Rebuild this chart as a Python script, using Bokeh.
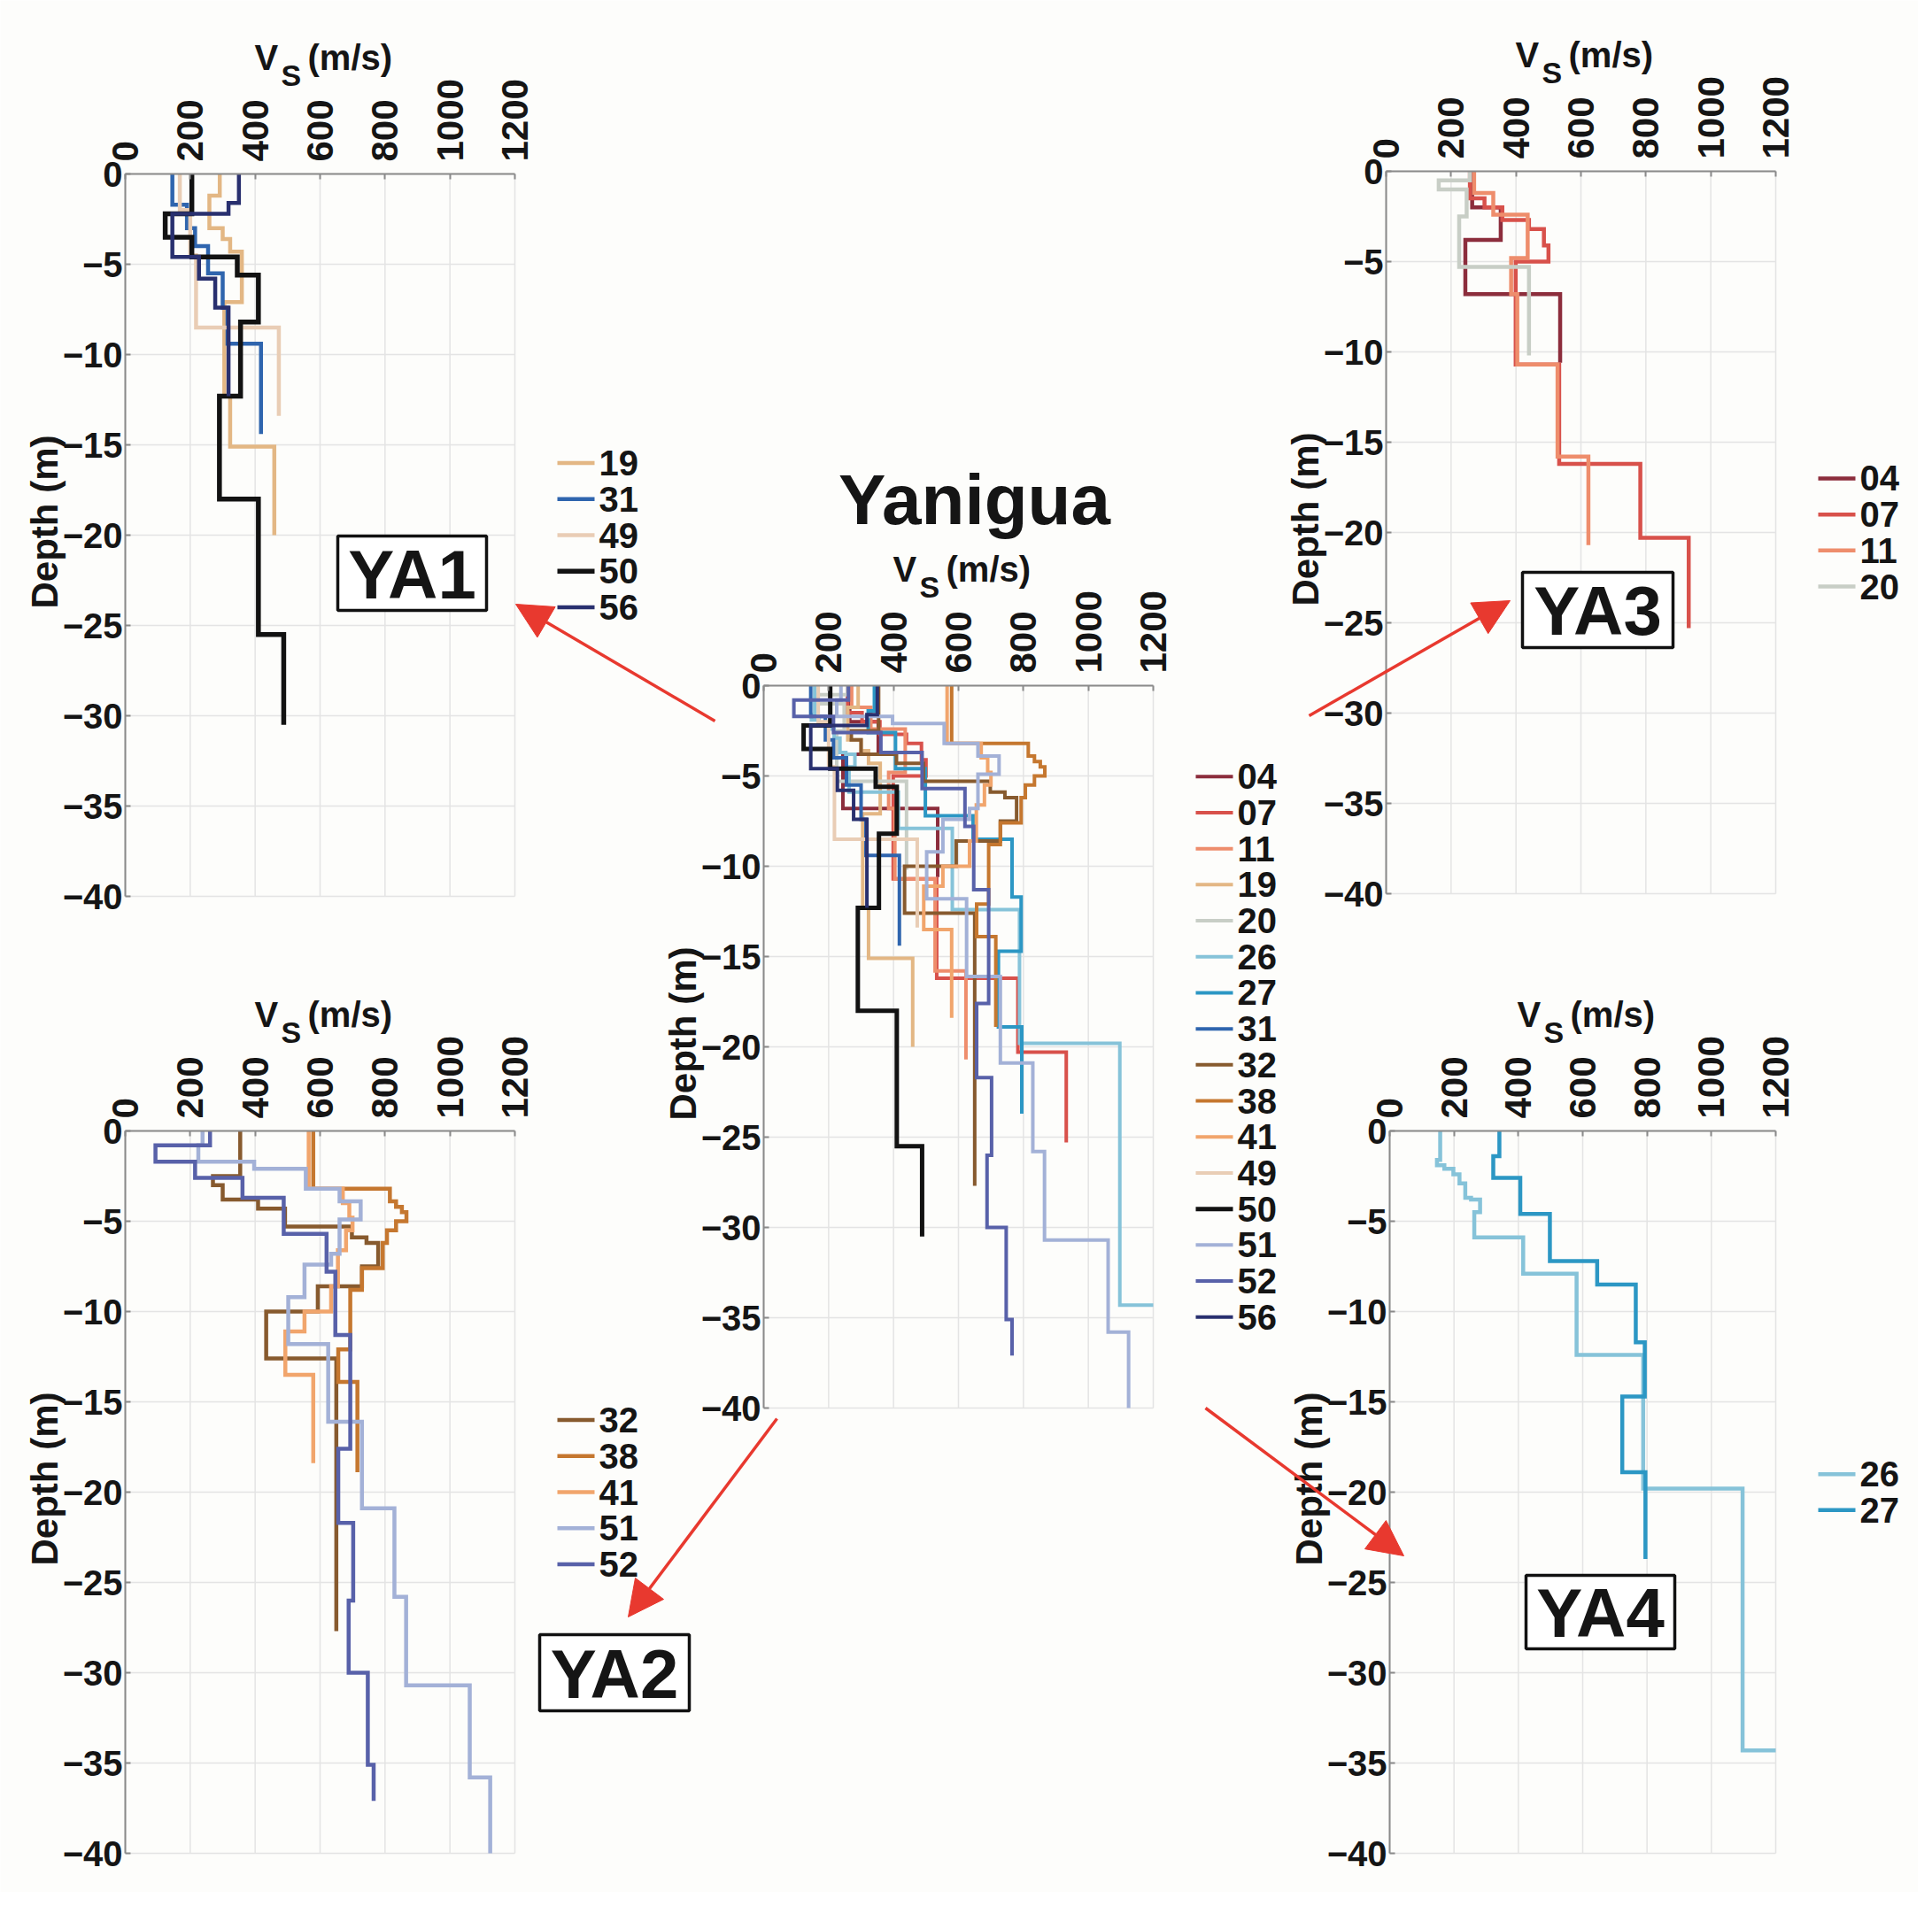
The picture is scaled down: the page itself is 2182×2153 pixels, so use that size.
import math
from bokeh.plotting import figure
from bokeh.models import Range1d, LinearAxis, FixedTicker, Label, Arrow, NormalHead
from bokeh.embed import file_html
from bokeh.resources import INLINE

# ---------------- data ----------------
depth_ticks = [0, -5, -10, -15, -20, -25, -30, -35, -40]
vs_ticks = [0, 200, 400, 600, 800, 1000, 1200]
site_ids = ["04", "07", "11", "19", "20", "26", "27", "31", "32", "38", "41", "49", "50", "51", "52", "56"]

# layer shear-wave velocity (m/s) and layer bottom depth (m)
vs_04 = [265, 353, 244, 536]
z_04 = [2.0, 3.8, 6.8, 10.6]
vs_07 = [258, 303, 358, 440, 486, 500, 399, 533, 783, 932]
z_07 = [1.5, 2.0, 2.7, 3.2, 4.1, 5.0, 10.7, 16.2, 20.3, 25.3]
vs_11 = [271, 330, 436, 385, 404, 528, 623]
z_11 = [1.2, 2.4, 4.8, 6.8, 10.7, 15.8, 20.7]
vs_19 = [291, 259, 300, 323, 359, 305, 323, 459]
z_19 = [1.2, 3.0, 3.6, 4.3, 7.1, 12.3, 15.1, 20.0]
vs_20 = [258, 162, 248, 225, 440]
z_20 = [0.5, 1.0, 2.5, 5.3, 10.2]
vs_26 = [157, 147, 170, 198, 217, 235, 253, 281, 263, 415, 581, 788, 1097, 1250]
z_26 = [1.6, 1.9, 2.1, 2.4, 2.9, 3.7, 3.8, 4.5, 5.9, 7.9, 12.4, 19.8, 34.3, 40.0]
vs_27 = [341, 322, 406, 498, 645, 765, 793, 723, 795]
z_27 = [1.4, 2.6, 4.6, 7.2, 8.5, 11.7, 14.7, 18.9, 23.7]
vs_31 = [145, 190, 215, 255, 300, 315, 418]
z_31 = [1.7, 3.0, 4.0, 5.5, 7.4, 9.4, 14.4]
vs_32 = [354, 270, 300, 409, 492, 698, 743, 779, 729, 593, 434, 650]
z_32 = [2.5, 3.0, 3.8, 4.3, 5.3, 5.9, 6.2, 7.5, 8.6, 10.0, 12.6, 27.7]
vs_38 = [579, 815, 834, 852, 866, 834, 806, 793, 729, 693, 656, 715]
z_38 = [3.2, 3.9, 4.2, 4.5, 5.0, 5.5, 6.2, 7.6, 8.8, 12.1, 13.9, 18.9]
vs_41 = [565, 670, 690, 700, 680, 655, 634, 552, 493, 579]
z_41 = [3.2, 4.0, 4.8, 5.5, 6.6, 8.6, 10.0, 11.1, 13.5, 18.4]
vs_49 = [168, 200, 218, 473]
z_49 = [2.0, 4.5, 8.5, 13.4]
vs_50 = [205, 123, 205, 345, 410, 355, 290, 410, 488]
z_50 = [2.2, 3.5, 4.6, 5.6, 8.2, 12.3, 18.0, 25.5, 30.5]
vs_51 = [238, 225, 397, 556, 660, 725, 660, 634, 552, 502, 625, 729, 829, 865, 1061, 1124]
z_51 = [0.8, 1.7, 2.1, 3.2, 3.9, 4.9, 6.8, 7.4, 9.2, 11.8, 16.1, 20.9, 25.8, 30.7, 35.8, 40.0]
vs_52 = [261, 93, 215, 361, 488, 620, 647, 693, 656, 702, 688, 747, 765]
z_52 = [0.8, 1.7, 2.6, 3.7, 5.7, 7.8, 11.3, 17.6, 21.7, 26.0, 30.0, 35.1, 37.1]
vs_56 = [350, 318, 145, 227, 277, 318]
z_56 = [1.6, 2.2, 4.6, 5.8, 7.4, 12.3]

ya1_sites = ["19", "31", "49", "50", "56"]
ya2_sites = ["32", "38", "41", "51", "52"]
ya3_sites = ["04", "07", "11", "20"]
ya4_sites = ["26", "27"]

profiles = {
    "04": (vs_04, z_04), "07": (vs_07, z_07), "11": (vs_11, z_11), "19": (vs_19, z_19),
    "20": (vs_20, z_20), "26": (vs_26, z_26), "27": (vs_27, z_27), "31": (vs_31, z_31),
    "32": (vs_32, z_32), "38": (vs_38, z_38), "41": (vs_41, z_41), "49": (vs_49, z_49),
    "50": (vs_50, z_50), "51": (vs_51, z_51), "52": (vs_52, z_52), "56": (vs_56, z_56),
}

colors = {
    "04": "#8c2d3c", "07": "#d8514b", "11": "#ee8d6c", "19": "#e3b784",
    "20": "#c8cec6", "26": "#86c3d9", "27": "#2c97c4", "31": "#2f65ae",
    "32": "#875a2e", "38": "#c5772f", "41": "#f1a56c", "49": "#e9cdb5",
    "50": "#121212", "51": "#a3b1d7", "52": "#5861a9", "56": "#29306f",
}

# ---------------- layout (screenshot pixels) ----------------
W, H = 2166, 2137
PX0, PX1 = 0, W
PY0, PY1 = 0, H
FONT = "Liberation Sans"
TXT = "#151515"
BG = "#fdfdfb"
GRID = "#e4e4e4"
AXC = "#8a8a8a"
RED = "#e8392f"

panels = [
    ("YA1", (141, 581, 196, 1012), ya1_sites, 4.5),
    ("YA2", (141, 581, 1277, 2093), ya2_sites, 4.5),
    ("C", (862, 1302, 774, 1590), site_ids, 4.0),
    ("YA3", (1565, 2005, 193, 1009), ya3_sites, 4.5),
    ("YA4", (1569, 2005, 1277, 2093), ya4_sites, 4.5),
]

p = figure(width=W, height=H,
           x_range=Range1d(PX0, PX1), y_range=Range1d(PY1, PY0),
           x_axis_location=None, y_axis_location=None,
           output_backend="svg", toolbar_location=None, min_border=0)
p.outline_line_color = None
p.background_fill_color = BG
p.border_fill_color = BG
p.grid.visible = False


def step_path(vs, z, vmax):
    xs, ys = [], []
    top = 0.0
    for v, bot in zip(vs, z):
        if v > vmax:
            xs.append(vmax)
            ys.append(-top)
            break
        xs.extend([v, v])
        ys.extend([-top, -bot])
        top = bot
    return xs, ys


def label(x, y, text, size, align="left", angle=0.0):
    p.add_layout(Label(x=x, y=y, text=text, text_font=FONT, text_font_style="bold",
                       text_font_size=size, text_color=TXT, text_align=align,
                       text_baseline="middle", angle=angle))


vmin, vmax = vs_ticks[0], vs_ticks[-1]
dtop, dbot = depth_ticks[0], depth_ticks[-1]

for name, (L, R, T, B), sites, lw in panels:
    kx = (vmax - vmin) / (R - L)
    ky = (dtop - dbot) / (B - T)
    p.extra_x_ranges[name + "_x"] = Range1d(vmin - (L - PX0) * kx, vmax + (PX1 - R) * kx)
    p.extra_y_ranges[name + "_y"] = Range1d(dbot - (PY1 - B) * ky, dtop + (T - PY0) * ky)
    rn = dict(x_range_name=name + "_x", y_range_name=name + "_y")

    # grid
    p.segment(x0=vs_ticks, y0=[dtop] * len(vs_ticks), x1=vs_ticks, y1=[dbot] * len(vs_ticks),
              line_color=GRID, line_width=1.5, **rn)
    p.segment(x0=[vmin] * len(depth_ticks), y0=depth_ticks, x1=[vmax] * len(depth_ticks),
              y1=depth_ticks, line_color=GRID, line_width=1.5, **rn)

    # profiles
    for s in sites:
        xs, ys = step_path(profiles[s][0], profiles[s][1], vmax)
        w = lw + 1.0 if s == "50" else lw
        p.line(xs, ys, line_color=colors[s], line_width=w, line_join="miter", **rn)

    # axes
    xa = LinearAxis(fixed_location=dtop, bounds=(vmin, vmax), ticker=FixedTicker(ticks=vs_ticks), **rn)
    ya = LinearAxis(fixed_location=vmin, bounds=(dbot, dtop), ticker=FixedTicker(ticks=depth_ticks), **rn)
    for ax in (xa, ya):
        ax.axis_line_color = AXC
        ax.axis_line_width = 2
        ax.major_tick_line_color = AXC
        ax.major_tick_line_width = 2
        ax.major_tick_in = 6
        ax.major_tick_out = 0
        ax.minor_tick_line_color = None
        ax.major_label_text_font = FONT
        ax.major_label_text_font_style = "bold"
        ax.major_label_text_color = TXT
    xa.major_label_text_font_size = "42px"
    ya.major_label_text_font_size = "40px"
    xa.major_label_orientation = "vertical"
    xa.major_label_standoff = 14
    ya.major_label_standoff = 3
    p.add_layout(xa, "above")
    p.add_layout(ya, "left")

    # axis titles
    cx = (L + R) / 2
    label(cx - 74, T - 132, "V", "40px")
    label(cx - 44, T - 112, "S", "34px")
    label(cx - 14, T - 132, "(m/s)", "40px")
    label(L - 91, (T + B) / 2 - 15, "Depth (m)", "42px", align="center", angle=math.pi / 2)

    # legend
    cy = (T + B) / 2
    n = len(sites)
    for i, s in enumerate(sites):
        yy = cy + (i - (n - 1) / 2) * 40.7
        w = lw + 1.0 if s == "50" else lw
        p.segment(x0=[R + 48], y0=[yy], x1=[R + 90], y1=[yy], line_color=colors[s], line_width=w)
        label(R + 95, yy, s, "40px")

# title
label(1100, 564, "Yanigua", "80px", align="center")

# group boxes
boxes = [("YA1", 381, 549, 605, 689), ("YA2", 609, 778, 1846, 1932),
         ("YA3", 1719, 1889, 646, 731), ("YA4", 1723, 1891, 1779, 1862)]
p.quad(left=[b[1] for b in boxes], right=[b[2] for b in boxes],
       top=[b[3] for b in boxes], bottom=[b[4] for b in boxes],
       fill_color="white", line_color="#111111", line_width=3.5)
for t, l, r, tp, bt in boxes:
    label((l + r) / 2, (tp + bt) / 2 + 1, t, "78px", align="center")

# arrows
arrows = [((807, 814), (582, 682)), ((1478, 808), (1705, 678)),
          ((877, 1602), (709, 1826)), ((1361, 1590), (1585, 1757))]
for (x0, y0), (x1, y1) in arrows:
    p.add_layout(Arrow(end=NormalHead(size=40, fill_color=RED, line_color=RED, line_width=1),
                       x_start=x0, y_start=y0, x_end=x1, y_end=y1,
                       line_color=RED, line_width=3.5))

open("out.html", "w").write(file_html(p, INLINE))
